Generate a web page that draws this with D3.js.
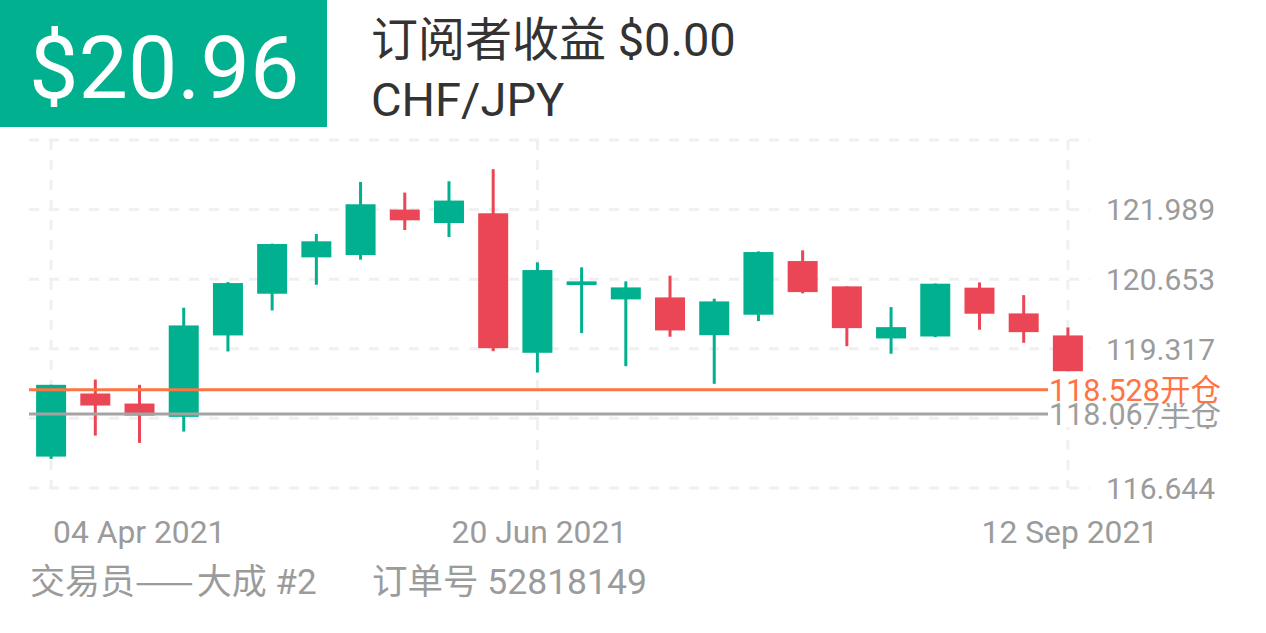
<!DOCTYPE html>
<html>
<head>
<meta charset="utf-8">
<script src="https://cdn.jsdelivr.net/npm/d3@7"></script>
<style>
  html, body { margin: 0; padding: 0; background: #fff; }
  svg { display: block; }
  text { font-family: Roboto, "Noto Sans CJK SC", sans-serif; }
  .cjk { font-family: "Noto Sans CJK SC", Roboto, sans-serif; }
</style>
</head>
<body>
<svg id="chart" width="1266" height="633"></svg>
<script>
// ---- data ----
const dates = ["2021-04-04","2021-04-11","2021-04-18","2021-04-25","2021-05-02","2021-05-09","2021-05-16","2021-05-23","2021-05-30","2021-06-06","2021-06-13","2021-06-20","2021-06-27","2021-07-04","2021-07-11","2021-07-18","2021-07-25","2021-08-01","2021-08-08","2021-08-15","2021-08-22","2021-08-29","2021-09-05","2021-09-12"];
const open  = [117.247,118.458,118.265,118.010,119.573,120.374,121.072,121.116,121.989,121.731,121.918,119.240,120.540,120.265,120.303,119.578,119.971,121.001,120.515,119.515,119.553,120.490,119.996,119.573];
const high  = [118.625,118.727,118.625,120.105,120.597,121.335,121.520,122.520,122.316,122.533,122.764,120.976,120.880,120.611,120.720,120.278,121.187,121.207,120.515,120.117,120.570,120.591,120.347,119.726];
const low   = [117.202,117.650,117.510,117.727,119.265,120.053,120.547,121.028,121.597,121.462,119.271,118.861,119.617,118.982,119.548,118.644,119.848,120.380,119.367,119.221,119.540,119.682,119.432,118.886];
const close = [118.625,118.227,118.035,119.765,120.578,121.328,121.380,122.091,121.783,122.162,119.328,120.828,120.611,120.495,119.669,120.226,121.174,120.405,119.713,119.732,120.566,119.990,119.636,118.886];

const yTicks = [116.644,117.981,119.317,120.653,121.989,123.325];
const yTickLabels = ["116.644","117.981","119.317","120.653","121.989"];
const xTickDates = ["2021-04-04","2021-06-20","2021-09-12"];
const xTickLabels = ["04 Apr 2021","20 Jun 2021","12 Sep 2021"];

const openLevel = 118.528, openLabel = "118.528开仓";
const halfLevel = 118.067, halfLabel = "118.067半仓";

const profitText = "$20.96";
const subscriberLabel = "订阅者收益", subscriberValue = "$0.00";
const symbolText = "CHF/JPY";
const traderName = "交易员", traderDash = "——", traderRest = "大成 #2";
const orderText = "订单号 52818149";

// ---- setup ----
const parse = d3.utcParse("%Y-%m-%d");
const candles = dates.map((d,i)=>({date:parse(d), o:open[i], h:high[i], l:low[i], c:close[i]}));
const HALF = 3.5*24*3600*1000;

const svg = d3.select("#chart");
const GREEN = "#00B08F", RED = "#EB4655", ORANGE = "#FF7443", GRAY_LINE = "#A3A3A3", AXIS_TXT = "#9B9B9B", GRID = "#F0F0F0";

const x = d3.scaleUtc()
  .domain([new Date(candles[0].date - HALF), new Date(+candles[candles.length-1].date + HALF)])
  .range([29, 1090]);
const y = d3.scaleLinear().domain([yTicks[0], yTicks[yTicks.length-1]]).range([488, 140]);

// header
svg.append("rect").attr("x",0).attr("y",0).attr("width",327).attr("height",127).attr("fill",GREEN);
svg.append("text").attr("x",29).attr("y",98).attr("fill","#fff").attr("font-size",88).text(profitText);
const sub = svg.append("text").attr("x",371).attr("y",56).attr("fill","#333").attr("font-size",47);
sub.append("tspan").attr("class","cjk").text(subscriberLabel);
sub.append("tspan").text(" " + subscriberValue);
svg.append("text").attr("x",371).attr("y",116).attr("fill","#333").attr("font-size",47).text(symbolText);

// grid
const grid = svg.append("g");
grid.selectAll("line.h").data(yTicks).join("line")
  .attr("x1",29).attr("x2",1090).attr("y1",d=>y(d)).attr("y2",d=>y(d))
  .attr("stroke",GRID).attr("stroke-width",3).attr("stroke-dasharray","10,10");
grid.selectAll("line.v").data(xTickDates).join("line")
  .attr("x1",d=>x(parse(d))).attr("x2",d=>x(parse(d))).attr("y1",140).attr("y2",488)
  .attr("stroke",GRID).attr("stroke-width",3).attr("stroke-dasharray","10,10");

// y labels
svg.append("g").selectAll("text").data(yTickLabels).join("text")
  .attr("x",1106).attr("y",d=>y(+d)).attr("dy","0.36em")
  .attr("fill",AXIS_TXT).attr("font-size",30).text(d=>d);

// x labels
svg.append("g").selectAll("text").data(xTickDates).join("text")
  .attr("x",(d,i)=> i===0 ? x(parse(d))+2 : x(parse(d))+2)
  .attr("y",543)
  .attr("text-anchor",(d,i)=> i===0 ? "start" : "middle")
  .attr("fill",AXIS_TXT).attr("font-size",31.8).text((d,i)=>xTickLabels[i]);

// candles
const bw = 30;
const cg = svg.append("g");
cg.selectAll("line").data(candles).join("line")
  .attr("x1",d=>x(d.date)).attr("x2",d=>x(d.date))
  .attr("y1",d=>y(d.h)).attr("y2",d=>y(d.l))
  .attr("stroke",d=>d.c>=d.o?GREEN:RED).attr("stroke-width",3);
cg.selectAll("rect").data(candles).join("rect")
  .attr("x",d=>x(d.date)-bw/2).attr("width",bw)
  .attr("y",d=>y(Math.max(d.o,d.c)))
  .attr("height",d=>Math.max(2,Math.abs(y(d.o)-y(d.c))))
  .attr("fill",d=>d.c>=d.o?GREEN:RED);

// level lines
svg.append("line").attr("x1",29).attr("x2",1048).attr("y1",y(openLevel)).attr("y2",y(openLevel))
  .attr("stroke",ORANGE).attr("stroke-width",3);
svg.append("line").attr("x1",29).attr("x2",1048).attr("y1",y(halfLevel)).attr("y2",y(halfLevel))
  .attr("stroke",GRAY_LINE).attr("stroke-width",3);

function levelLabel(val, txt, color){
  const g = svg.append("g");
  const bg = g.append("rect").attr("fill","#fff");
  const t = g.append("text").attr("x",1049).attr("y",y(val)).attr("dy","0.36em")
    .attr("fill",color).attr("font-size",30.5).text(txt);
  const bb = t.node().getBBox();
  bg.attr("x",bb.x).attr("y",y(val)-13).attr("width",bb.width+2).attr("height",26);
}
levelLabel(halfLevel, halfLabel, "#9E9E9E");
levelLabel(openLevel, openLabel, ORANGE);

// footer
const ft = svg.append("text").attr("x",30).attr("y",594).attr("fill",AXIS_TXT).attr("font-size",35);
ft.append("tspan").text(traderName);
ft.append("tspan").attr("class","cjk").attr("letter-spacing",3).text(traderDash);
ft.append("tspan").text(traderRest);
svg.append("text").attr("x",372).attr("y",594).attr("fill",AXIS_TXT).attr("font-size",35.5).text(orderText);
</script>
</body>
</html>
